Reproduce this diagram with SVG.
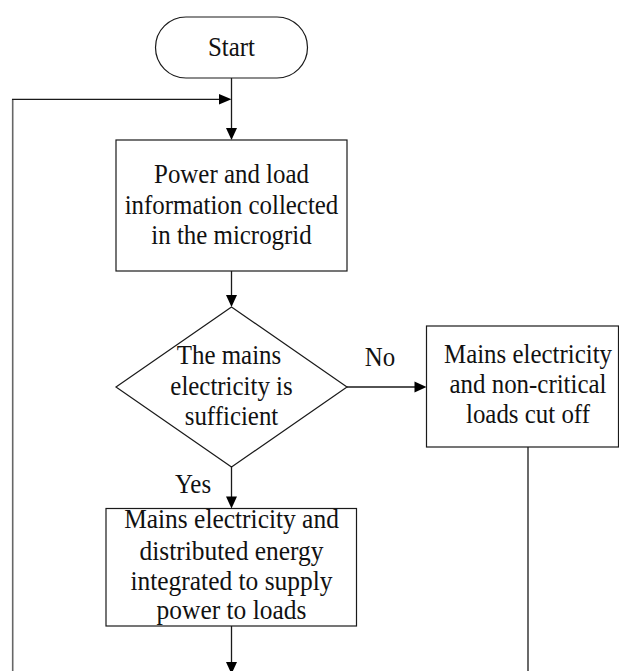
<svg xmlns="http://www.w3.org/2000/svg" width="619" height="671" viewBox="0 0 619 671">
  <defs>
    <style>
      .shape { fill: #ffffff; stroke: #1a1a1a; stroke-width: 1.2; }
      .line { fill: none; stroke: #1a1a1a; stroke-width: 1.3; }
      .loop { fill: none; stroke: #666666; stroke-width: 1.6; }
      .head { fill: #000000; stroke: none; }
      text { font-family: "Liberation Serif", "Times New Roman", serif; font-size: 26.5px; fill: #111111; text-anchor: middle; }
    </style>
  </defs>

  <!-- connectors -->
  <g id="connectors">
    <!-- start to first process -->
    <path class="line" d="M231.5 78 V130"/>
    <polygon class="head" points="226,128 237,128 231.5,140"/>
    <!-- feedback loop on the left -->
    <path class="loop" d="M12.7 671 V99.3"/>
    <path class="line" d="M12 99.3 H220"/>
    <polygon class="head" points="219,94 219,104.5 231.5,99.3"/>
    <!-- process to decision -->
    <path class="line" d="M231.5 271 V297"/>
    <polygon class="head" points="226,295 237,295 231.5,307"/>
    <!-- decision: No -->
    <path class="line" d="M347 387 H416"/>
    <polygon class="head" points="414.5,381.5 414.5,392.5 426.5,387"/>
    <text transform="translate(380 365.5) scale(0.94 1)">No</text>
    <!-- decision: Yes -->
    <path class="line" d="M231.5 467 V498"/>
    <polygon class="head" points="226,496.5 237,496.5 231.5,508.5"/>
    <text transform="translate(193 492.5) scale(0.94 1)">Yes</text>
    <!-- supply box downward -->
    <path class="line" d="M231.5 626 V664"/>
    <polygon class="head" points="226,662 237,662 231.5,674"/>
    <!-- cut-off box downward -->
    <path class="line" d="M528 447 V671"/>
  </g>

  <g id="start">
    <rect class="shape" x="155.5" y="17" width="152" height="61" rx="30.5" ry="30.5"/>
    <text transform="translate(231.5 55.5) scale(0.94 1)">Start</text>
  </g>

  <g id="collect">
    <rect class="shape" x="116" y="140" width="231" height="131"/>
    <text transform="translate(231.5 183) scale(0.94 1)">Power and load</text>
    <text transform="translate(231.5 213.7) scale(0.94 1)">information collected</text>
    <text transform="translate(231.5 243.5) scale(0.94 1)">in the microgrid</text>
  </g>

  <g id="decision">
    <polygon class="shape" points="231.5,307 347,387 231.5,467 116,387"/>
    <text transform="translate(229 364.3) scale(0.94 1)">The mains</text>
    <text transform="translate(231.5 395) scale(0.94 1)">electricity is</text>
    <text transform="translate(231.5 425) scale(0.94 1)">sufficient</text>
  </g>

  <g id="cutoff">
    <rect class="shape" x="426.5" y="326" width="192" height="121"/>
    <text transform="translate(528 363.3) scale(0.94 1)">Mains electricity</text>
    <text transform="translate(528 393.3) scale(0.94 1)">and non-critical</text>
    <text transform="translate(528 423.3) scale(0.94 1)">loads cut off</text>
  </g>

  <g id="supply">
    <rect class="shape" x="106" y="508.5" width="250.5" height="117.5"/>
    <text transform="translate(231.5 528.3) scale(0.96 1)">Mains electricity and</text>
    <text transform="translate(231.5 559.5) scale(0.96 1)">distributed energy</text>
    <text transform="translate(231.5 590.3) scale(0.96 1)">integrated to supply</text>
    <text transform="translate(231.5 619) scale(0.96 1)">power to loads</text>
  </g>
</svg>
